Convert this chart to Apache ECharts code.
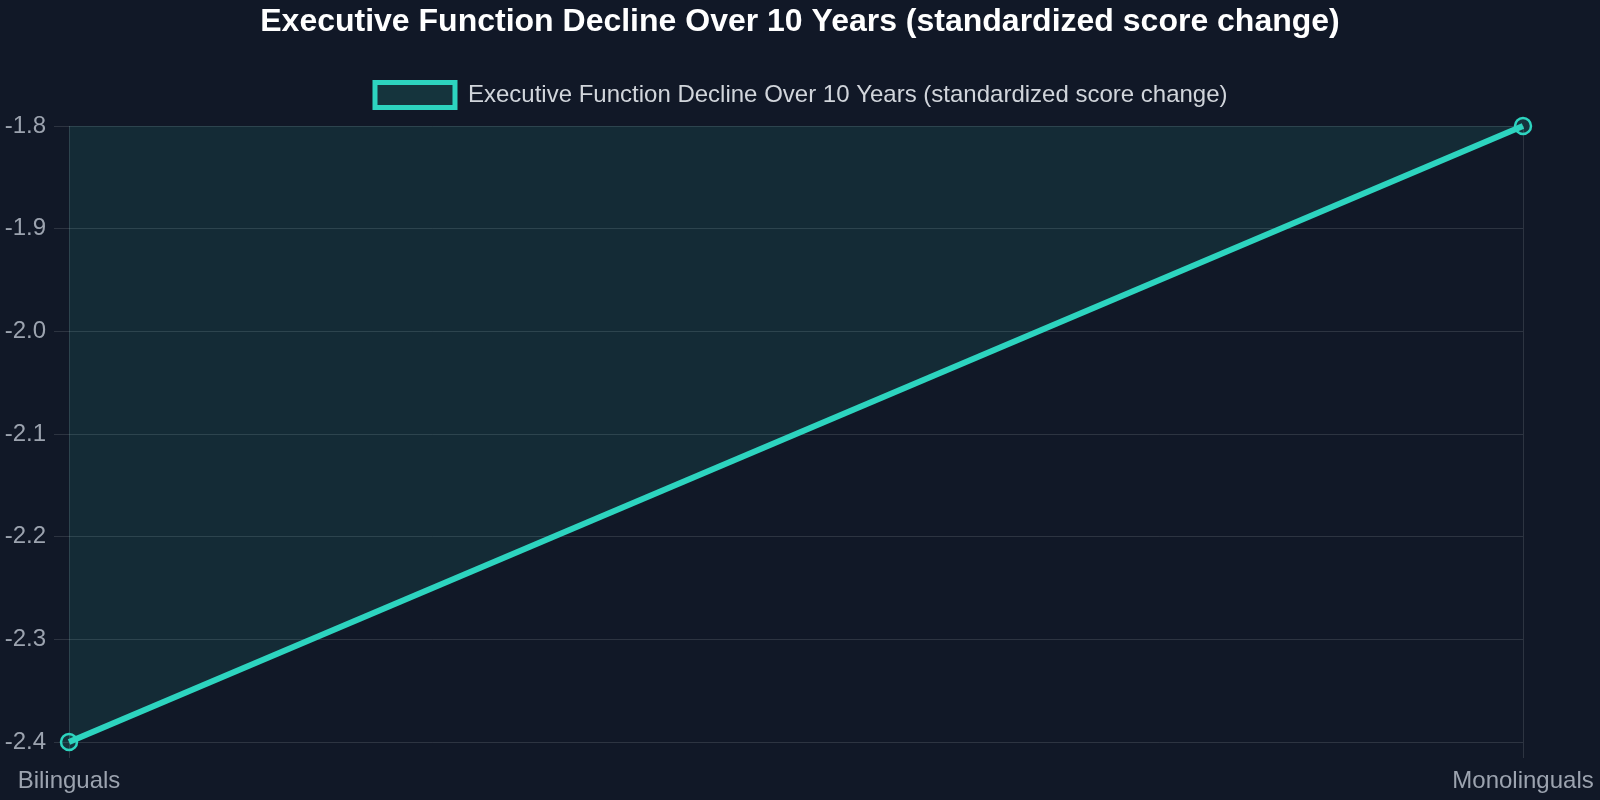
<!DOCTYPE html>
<html>
<head>
<meta charset="utf-8">
<script src="https://cdn.jsdelivr.net/npm/echarts@6/dist/echarts.min.js"></script>
<style>
html,body{margin:0;padding:0;background:#111827;}
#chart{width:1600px;height:800px;}
</style>
</head>
<body>
<div id="chart"></div>
<script>
const titleText = 'Executive Function Decline Over 10 Years (standardized score change)';
const seriesName = 'Executive Function Decline Over 10 Years (standardized score change)';
const categories = ['Bilinguals', 'Monolinguals'];
const values = [-2.4, -1.8];
const yMin = -2.4, yMax = -1.8, yStep = 0.1;

const FONT = '"Liberation Sans", Arial, Helvetica, sans-serif';
const GRID = 'rgba(255,255,255,0.12)';
const chart = echarts.init(document.getElementById('chart'));
chart.setOption({
  backgroundColor: '#111827',
  animation: false,
  title: {
    text: titleText,
    left: 'center',
    top: 1,
    textStyle: {color: '#ffffff', fontSize: 32, fontWeight: 'bold', fontFamily: FONT}
  },
  legend: {
    data: [seriesName],
    top: 75,
    left: 'center',
    itemWidth: 80,
    itemHeight: 25,
    icon: 'rect',
    itemStyle: {color: 'rgba(45,212,191,0.15)', borderColor: '#2dd4bf', borderWidth: 5},
    textStyle: {color: '#d1d5db', fontSize: 24, fontFamily: FONT, padding: [0,0,0,8]}
  },
  grid: {left: 69, right: 77, top: 126, bottom: 58, containLabel: false},
  xAxis: {
    type: 'category',
    data: categories,
    boundaryGap: false,
    axisLine: {show: false},
    axisTick: {show: true, length: 16, lineStyle: {color: GRID}},
    splitLine: {show: true, lineStyle: {color: GRID, width: 1}},
    axisLabel: {color: '#9ca3af', fontSize: 24, fontFamily: FONT, margin: 27}
  },
  yAxis: {
    type: 'value',
    min: yMin, max: yMax, interval: yStep,
    axisLine: {show: false},
    axisTick: {show: true, length: 15, lineStyle: {color: GRID}},
    splitLine: {show: true, lineStyle: {color: GRID, width: 1}},
    axisLabel: {color: '#9ca3af', fontSize: 24, fontFamily: FONT, margin: 23,
      padding: [9, 0, 0, 0],
      formatter: v => v.toFixed(1)}
  },
  series: [{
    name: seriesName,
    type: 'line',
    data: values,
    symbol: 'circle',
    symbolSize: 16,
    showSymbol: true,
    lineStyle: {color: '#2dd4bf', width: 6},
    itemStyle: {color: 'rgba(45,212,191,0.15)', borderColor: '#2dd4bf', borderWidth: 2.5},
    areaStyle: {color: 'rgba(45,212,191,0.15)', origin: 'end'}
  }]
});
</script>
</body>
</html>
